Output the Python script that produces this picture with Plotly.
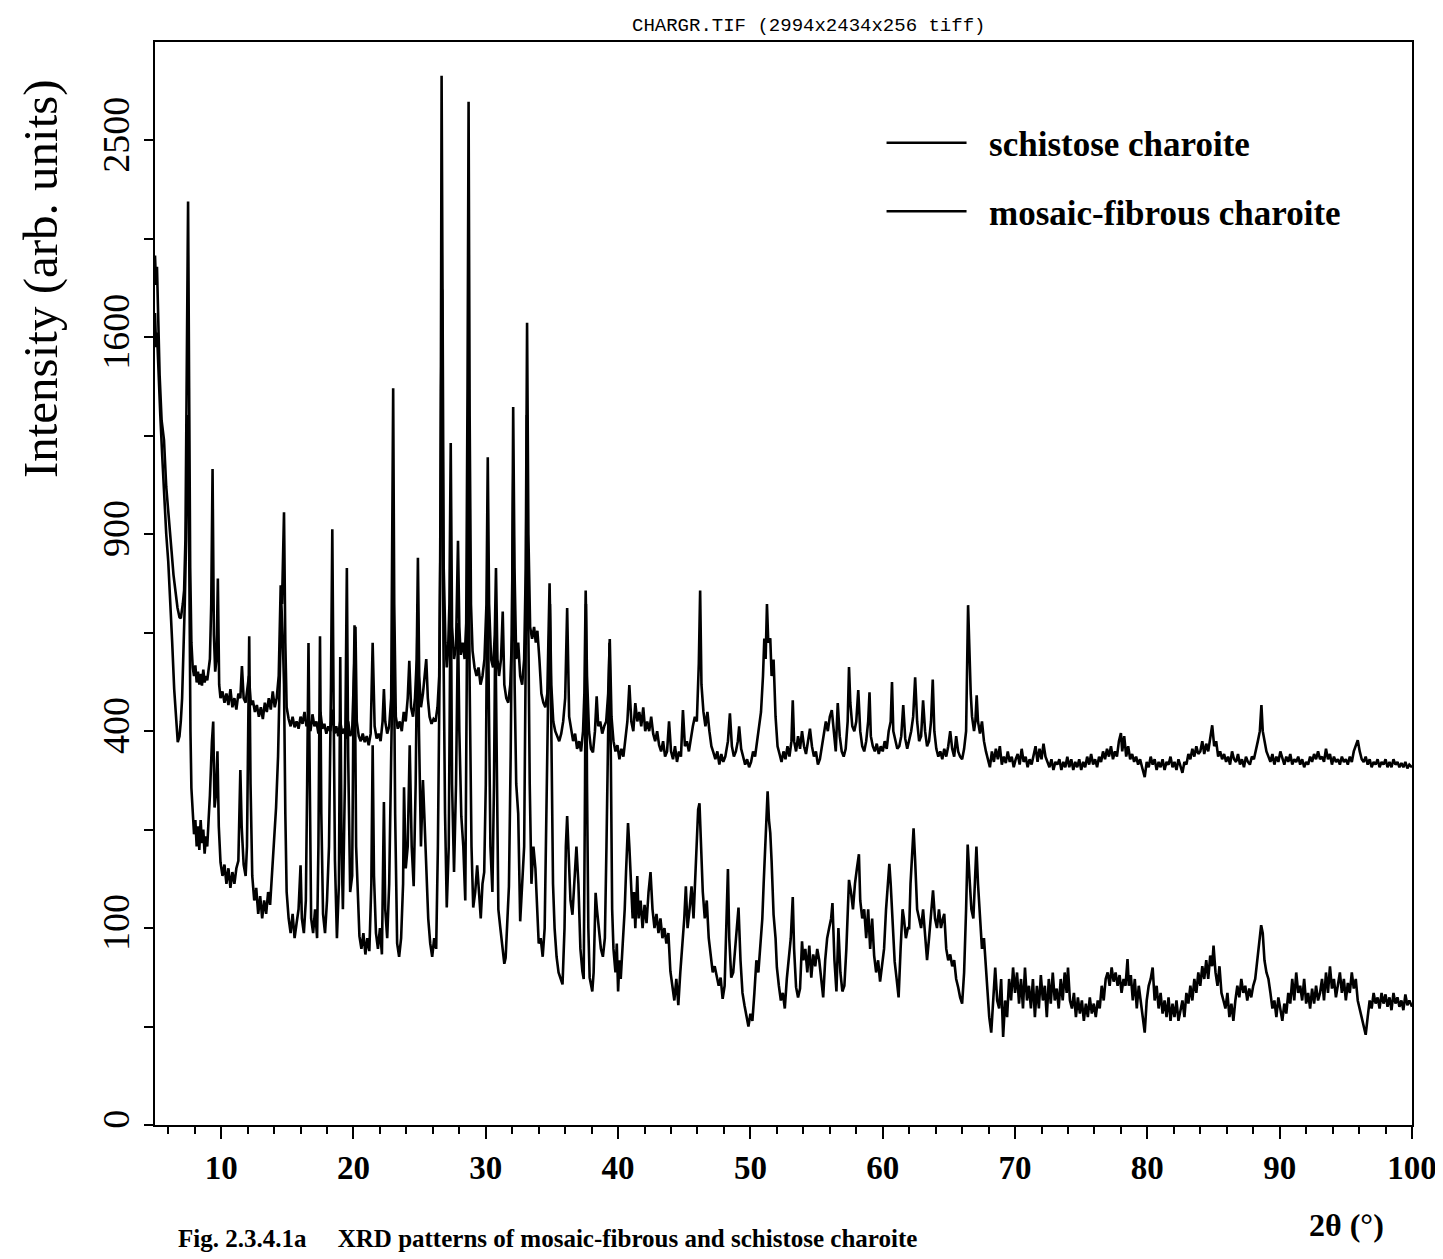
import numpy as np
import plotly.graph_objects as go

# ---------------- data ----------------
# (2theta in degrees, intensity in arb. units)
schistose = [
(5.0,1950),(5.08,1820),(5.15,1900),(5.25,1580),(5.35,1450),(5.5,1280),(5.68,1210),(5.85,1050),
(6.06,925),(6.25,850),(6.4,780),(6.55,737),(6.7,690),(6.85,665),(6.95,662),(7.1,700),(7.2,737),
(7.3,885),(7.4,1500),(7.5,2200),(7.58,1400),(7.66,800),(7.75,600),(7.85,540),(7.95,520),(8.05,545),
(8.15,505),(8.25,530),(8.35,500),(8.45,525),(8.55,498),(8.65,535),(8.75,505),(8.85,520),(8.95,510),
(9.05,540),(9.15,560),(9.25,700),(9.35,1110),(9.45,620),(9.55,530),(9.65,560),(9.75,770),(9.85,500),
(9.95,470),(10.1,485),(10.25,460),(10.4,480),(10.55,455),(10.7,490),(10.85,450),(11.0,470),(11.15,445),
(11.3,480),(11.45,470),(11.57,543),(11.7,470),(11.85,460),(11.95,480),(12.1,520),(12.25,455),(12.4,465),
(12.55,440),(12.7,455),(12.85,430),(13.0,450),(13.15,425),(13.3,460),(13.45,440),(13.6,470),(13.75,445),
(13.9,485),(14.05,450),(14.2,470),(14.35,520),(14.5,751),(14.6,700),(14.75,968),(14.85,600),(14.95,450),
(15.1,425),(15.25,410),(15.4,430),(15.55,408),(15.7,420),(15.85,405),(16.0,430),(16.15,415),(16.3,440),
(16.45,410),(16.6,425),(16.75,400),(16.9,435),(17.05,410),(17.2,420),(17.35,395),(17.5,440),(17.65,405),
(17.8,415),(17.95,395),(18.1,410),(18.25,400),(18.4,445),(18.55,395),(18.7,410),(18.85,390),(19.0,420),
(19.15,395),(19.3,405),(19.45,385),(19.6,420),(19.75,390),(19.9,400),(20.05,520),(20.15,640),(20.25,420),
(20.4,390),(20.55,380),(20.7,395),(20.85,378),(21.0,390),(21.15,372),(21.3,395),(21.45,600),(21.6,410),
(21.75,385),(21.9,395),(22.05,380),(22.2,420),(22.3,490),(22.4,420),(22.55,395),(22.7,410),(22.85,470),
(22.93,800),(23.0,1400),(23.08,700),(23.2,430),(23.35,405),(23.5,420),(23.65,400),(23.8,440),(23.95,420),
(24.1,470),(24.22,556),(24.35,450),(24.5,430),(24.65,470),(24.78,560),(24.87,830),(24.97,520),(25.1,450),
(25.25,480),(25.4,520),(25.5,560),(25.62,470),(25.75,430),(25.9,415),(26.05,425),(26.2,420),(26.35,450),
(26.48,520),(26.58,900),(26.66,2840),(26.74,1800),(26.82,800),(26.95,600),(27.05,540),(27.15,580),
(27.25,700),(27.35,1200),(27.45,640),(27.6,560),(27.75,590),(27.9,880),(28.0,640),(28.1,570),(28.25,600),
(28.4,560),(28.52,650),(28.62,1400),(28.7,2700),(28.78,1300),(28.88,700),(29.0,580),(29.15,540),
(29.3,520),(29.45,540),(29.6,500),(29.75,520),(29.9,560),(30.05,700),(30.15,1150),(30.25,700),(30.4,560),
(30.55,540),(30.68,620),(30.77,800),(30.88,560),(31.0,520),(31.15,560),(31.28,680),(31.4,500),(31.55,470),
(31.7,460),(31.85,500),(31.98,620),(32.07,1330),(32.17,800),(32.3,560),(32.45,600),(32.6,520),(32.75,500),
(32.9,560),(33.02,800),(33.12,1660),(33.22,900),(33.35,640),(33.5,610),(33.65,640),(33.78,600),(33.9,630),
(34.05,560),(34.2,480),(34.35,460),(34.5,450),(34.65,480),(34.82,757),(34.95,500),(35.1,420),(35.25,400),
(35.4,390),(35.55,380),(35.7,395),(35.85,420),(36.0,470),(36.15,689),(36.3,430),(36.45,400),(36.6,380),
(36.75,395),(36.9,365),(37.05,380),(37.2,360),(37.35,400),(37.45,480),(37.55,737),(37.65,520),(37.8,400),
(37.95,365),(38.1,358),(38.25,400),(38.38,474),(38.5,410),(38.65,420),(38.8,395),(38.95,410),(39.1,420),
(39.25,480),(39.37,609),(39.5,430),(39.65,380),(39.8,360),(39.95,372),(40.1,345),(40.25,365),(40.4,350),
(40.55,380),(40.7,420),(40.85,499),(41.0,420),(41.15,400),(41.3,459),(41.45,420),(41.6,440),(41.75,410),
(41.9,450),(42.05,400),(42.2,420),(42.35,400),(42.5,430),(42.65,395),(42.8,380),(42.95,400),(43.1,372),
(43.25,360),(43.4,380),(43.55,350),(43.7,360),(43.85,420),(44.0,360),(44.15,345),(44.3,370),(44.45,340),
(44.6,360),(44.75,350),(44.9,444),(45.05,370),(45.2,380),(45.35,360),(45.5,390),(45.65,410),(45.8,430),
(45.95,420),(46.1,550),(46.2,737),(46.3,500),(46.45,440),(46.6,410),(46.75,440),(46.9,400),(47.05,370),
(47.2,358),(47.35,345),(47.5,360),(47.65,335),(47.8,355),(47.95,340),(48.1,350),(48.3,380),(48.45,437),
(48.6,370),(48.75,350),(48.9,360),(49.05,380),(49.15,410),(49.3,365),(49.45,350),(49.6,335),(49.75,345),
(49.9,330),(50.05,340),(50.2,360),(50.35,350),(50.5,380),(50.65,400),(50.8,440),(50.95,520),(51.05,610),
(51.15,560),(51.25,700),(51.35,600),(51.5,611),(51.6,520),(51.75,559),(51.9,430),(52.05,370),(52.2,355),
(52.35,340),(52.5,360),(52.65,345),(52.8,370),(52.95,350),(53.1,380),(53.2,465),(53.3,380),(53.45,360),
(53.6,390),(53.75,365),(53.9,400),(54.05,370),(54.2,355),(54.35,380),(54.5,405),(54.65,370),(54.8,350),
(54.95,360),(55.1,335),(55.25,345),(55.4,370),(55.55,390),(55.7,420),(55.85,400),(56.0,430),(56.15,444),
(56.3,400),(56.45,360),(56.6,459),(56.75,390),(56.9,360),(57.05,350),(57.2,365),(57.35,420),(57.45,541),
(57.55,460),(57.7,410),(57.85,400),(58.0,420),(58.15,488),(58.3,400),(58.45,370),(58.6,360),(58.75,380),
(58.9,420),(59.0,483),(59.1,390),(59.25,370),(59.4,360),(59.55,375),(59.7,355),(59.85,370),(60.0,360),
(60.15,380),(60.3,365),(60.45,400),(60.6,420),(60.7,506),(60.8,400),(60.95,380),(61.1,365),(61.25,370),
(61.4,390),(61.55,455),(61.7,385),(61.85,365),(62.0,380),(62.15,400),(62.3,430),(62.45,517),(62.6,420),
(62.75,380),(62.9,390),(63.05,465),(63.2,400),(63.35,370),(63.5,380),(63.65,420),(63.78,512),(63.9,400),
(64.05,365),(64.2,350),(64.35,360),(64.5,345),(64.65,365),(64.8,350),(64.95,370),(65.1,400),(65.25,365),
(65.4,350),(65.55,390),(65.7,360),(65.85,350),(66.0,345),(66.15,365),(66.3,400),(66.45,697),(66.55,560),
(66.65,480),(66.75,430),(66.9,400),(67.0,420),(67.1,476),(67.2,420),(67.35,395),(67.5,420),(67.65,380),
(67.8,360),(67.95,345),(68.1,330),(68.25,360),(68.4,340),(68.55,365),(68.7,345),(68.85,370),(69.0,335),
(69.15,350),(69.3,338),(69.45,360),(69.6,340),(69.75,350),(69.9,330),(70.05,345),(70.2,355),(70.35,335),
(70.5,365),(70.65,340),(70.8,350),(70.95,330),(71.1,345),(71.25,335),(71.4,350),(71.55,370),(71.7,340),
(71.85,365),(72.0,345),(72.15,375),(72.3,350),(72.45,340),(72.6,330),(72.75,345),(72.9,325),(73.05,340),
(73.2,335),(73.35,345),(73.5,325),(73.65,340),(73.8,330),(73.95,350),(74.1,330),(74.25,345),(74.4,325),
(74.55,340),(74.7,330),(74.85,345),(75.0,325),(75.15,340),(75.3,330),(75.45,350),(75.6,335),(75.75,355),
(75.9,335),(76.05,345),(76.2,330),(76.35,350),(76.5,340),(76.65,360),(76.8,345),(76.95,365),(77.1,350),
(77.25,370),(77.4,345),(77.55,360),(77.7,350),(77.85,380),(78.0,396),(78.1,360),(78.25,390),(78.4,350),
(78.55,370),(78.7,345),(78.85,355),(79.0,340),(79.15,350),(79.3,335),(79.45,345),(79.6,330),(79.8,312),
(79.95,340),(80.1,330),(80.25,350),(80.4,335),(80.55,345),(80.7,325),(80.85,340),(81.0,330),(81.15,345),
(81.3,325),(81.45,340),(81.6,335),(81.75,350),(81.9,330),(82.05,340),(82.2,325),(82.35,345),(82.5,330),
(82.65,320),(82.8,340),(82.95,335),(83.1,355),(83.25,345),(83.4,365),(83.55,350),(83.7,370),(83.85,355),
(84.0,360),(84.15,380),(84.3,355),(84.45,375),(84.6,360),(84.75,390),(84.9,412),(85.05,370),(85.2,380),
(85.35,350),(85.5,360),(85.65,345),(85.8,355),(85.95,340),(86.1,350),(86.25,335),(86.4,360),(86.55,345),
(86.7,340),(86.85,355),(87.0,335),(87.15,345),(87.3,330),(87.45,350),(87.6,340),(87.75,335),(87.9,350),
(88.05,345),(88.2,360),(88.35,380),(88.5,400),(88.62,455),(88.72,400),(88.85,380),(89.0,360),(89.15,350),
(89.3,340),(89.45,355),(89.6,335),(89.75,350),(89.9,340),(90.05,360),(90.2,345),(90.35,335),(90.5,350),
(90.65,340),(90.8,355),(90.95,335),(91.1,345),(91.25,340),(91.4,350),(91.55,335),(91.7,345),(91.85,330),
(92.0,340),(92.15,335),(92.3,350),(92.45,340),(92.6,355),(92.75,345),(92.9,360),(93.05,345),(93.2,350),
(93.35,340),(93.5,365),(93.65,345),(93.8,355),(93.95,335),(94.1,350),(94.25,340),(94.4,345),(94.55,335),
(94.7,350),(94.85,340),(95.0,345),(95.15,335),(95.3,350),(95.45,340),(95.6,360),(95.75,370),(95.9,382),
(96.05,360),(96.2,345),(96.35,340),(96.5,350),(96.65,335),(96.8,345),(96.95,330),(97.1,340),(97.25,335),
(97.4,345),(97.55,330),(97.7,340),(97.85,335),(98.0,345),(98.15,330),(98.3,340),(98.45,330),(98.6,345),
(98.75,335),(98.9,340),(99.05,330),(99.2,338),(99.35,330),(99.5,340),(99.65,328),(99.8,335),(100.0,330),
]

mosaic = [
(5.0,1700),(5.08,1560),(5.15,1620),(5.25,1450),(5.4,1300),(5.55,1150),(5.7,1000),(5.85,900),(6.0,820),
(6.15,720),(6.3,600),(6.45,490),(6.6,410),(6.72,378),(6.85,390),(6.95,420),(7.05,470),(7.15,560),
(7.25,700),(7.35,885),(7.45,1300),(7.52,1250),(7.6,700),(7.68,400),(7.75,293),(7.85,250),(7.95,218),
(8.05,240),(8.15,200),(8.25,230),(8.35,195),(8.45,240),(8.55,205),(8.65,225),(8.75,190),(8.85,215),
(8.95,200),(9.05,240),(9.15,280),(9.3,378),(9.4,420),(9.5,260),(9.6,280),(9.72,360),(9.82,230),
(9.95,178),(10.1,160),(10.25,175),(10.4,150),(10.55,170),(10.7,145),(10.85,165),(11.0,150),(11.15,170),
(11.3,180),(11.45,325),(11.55,230),(11.7,175),(11.85,160),(11.95,200),(12.05,450),(12.12,616),(12.22,300),
(12.35,160),(12.5,130),(12.65,145),(12.8,115),(12.95,135),(13.1,110),(13.25,130),(13.4,115),(13.55,140),
(13.7,125),(13.85,160),(14.0,200),(14.15,260),(14.3,350),(14.45,600),(14.55,700),(14.65,620),(14.75,500),
(14.85,250),(14.95,140),(15.1,110),(15.25,95),(15.4,115),(15.55,90),(15.7,105),(15.85,120),(16.0,174),
(16.1,110),(16.25,95),(16.4,130),(16.5,300),(16.6,599),(16.7,300),(16.8,110),(16.95,95),(17.1,120),
(17.25,90),(17.35,200),(17.47,616),(17.57,250),(17.7,115),(17.85,95),(18.0,130),(18.15,200),(18.3,500),
(18.4,915),(18.5,450),(18.6,180),(18.75,90),(18.9,150),(19.0,565),(19.1,200),(19.2,120),(19.35,300),
(19.5,800),(19.6,350),(19.75,140),(19.9,160),(20.0,450),(20.08,644),(20.2,200),(20.3,147),(20.45,92),
(20.6,80),(20.75,95),(20.9,75),(21.05,90),(21.2,78),(21.35,150),(21.45,372),(21.55,160),(21.7,95),
(21.85,80),(22.0,100),(22.15,75),(22.3,269),(22.4,120),(22.55,90),(22.7,150),(22.85,350),(22.95,600),
(23.03,700),(23.15,250),(23.3,85),(23.45,73),(23.6,90),(23.75,150),(23.82,294),(23.95,170),(24.1,200),
(24.25,372),(24.4,200),(24.55,147),(24.7,300),(24.85,700),(24.95,400),(25.1,200),(25.25,307),(25.35,250),
(25.5,160),(25.65,110),(25.8,85),(25.95,73),(26.1,90),(26.25,80),(26.38,200),(26.5,500),(26.62,1400),
(26.7,1800),(26.8,600),(26.92,250),(27.05,122),(27.2,200),(27.35,800),(27.45,300),(27.6,165),(27.75,300),
(27.9,650),(28.0,400),(28.15,246),(28.3,200),(28.45,130),(28.58,500),(28.68,1200),(28.78,500),(28.92,200),
(29.05,122),(29.2,140),(29.35,174),(29.5,130),(29.62,110),(29.75,150),(29.88,165),(30.0,300),(30.12,800),
(30.22,500),(30.35,200),(30.5,140),(30.62,300),(30.72,650),(30.82,300),(30.95,120),(31.1,100),(31.25,79),
(31.4,67),(31.5,72),(31.65,120),(31.75,147),(31.88,350),(32.0,800),(32.08,1100),(32.18,500),(32.3,300),
(32.45,250),(32.6,107),(32.75,150),(32.9,200),(33.0,500),(33.1,1300),(33.2,700),(33.32,300),(33.45,150),
(33.6,200),(33.75,170),(33.9,120),(34.0,85),(34.15,90),(34.3,73),(34.45,100),(34.6,300),(34.75,550),
(34.85,700),(34.95,350),(35.08,150),(35.2,100),(35.35,73),(35.5,60),(35.65,56),(35.8,51),(35.95,100),
(36.05,200),(36.15,246),(36.25,200),(36.4,130),(36.55,114),(36.7,150),(36.85,200),(37.0,150),(37.15,80),
(37.3,61),(37.4,55),(37.5,300),(37.57,700),(37.65,300),(37.75,100),(37.85,56),(37.95,50),(38.05,46),
(38.15,60),(38.3,139),(38.4,120),(38.55,100),(38.7,80),(38.85,73),(39.0,90),(39.12,200),(39.25,450),
(39.35,600),(39.45,350),(39.55,120),(39.65,80),(39.8,60),(39.9,85),(40.0,46),(40.1,70),(40.2,55),
(40.35,85),(40.5,120),(40.6,165),(40.75,235),(40.85,200),(40.95,150),(41.1,110),(41.2,140),(41.3,100),
(41.45,160),(41.55,110),(41.7,130),(41.85,100),(42.0,125),(42.15,105),(42.3,140),(42.45,165),(42.6,120),
(42.75,100),(42.9,115),(43.05,95),(43.2,110),(43.35,90),(43.5,100),(43.65,85),(43.8,95),(43.95,61),
(44.1,50),(44.25,40),(44.4,55),(44.55,37),(44.7,60),(44.85,80),(45.0,110),(45.12,147),(45.25,100),
(45.4,120),(45.55,147),(45.7,110),(45.85,160),(45.95,220),(46.05,257),(46.15,267),(46.25,200),(46.4,140),
(46.55,110),(46.7,130),(46.85,90),(47.0,73),(47.15,60),(47.3,65),(47.45,56),(47.6,50),(47.75,56),
(47.9,41),(48.05,50),(48.2,100),(48.3,169),(48.4,90),(48.55,56),(48.7,60),(48.85,80),(49.0,100),
(49.1,122),(49.25,70),(49.4,45),(49.55,37),(49.7,30),(49.85,25),(50.0,32),(50.15,28),(50.3,45),
(50.45,70),(50.6,60),(50.75,80),(50.9,110),(51.0,150),(51.1,200),(51.2,240),(51.3,287),(51.4,240),
(51.5,220),(51.6,180),(51.75,114),(51.9,90),(52.0,64),(52.15,50),(52.3,40),(52.45,45),(52.6,35),
(52.75,55),(52.9,70),(53.05,90),(53.2,134),(53.3,80),(53.45,49),(53.6,42),(53.75,48),(53.9,87),
(54.0,70),(54.15,80),(54.3,60),(54.45,83),(54.6,56),(54.75,75),(54.9,65),(55.05,80),(55.2,70),
(55.35,55),(55.5,42),(55.65,70),(55.8,90),(55.95,100),(56.1,110),(56.2,127),(56.35,70),(56.5,46),
(56.65,100),(56.8,60),(56.95,46),(57.1,50),(57.25,80),(57.45,155),(57.6,140),(57.75,120),(57.9,150),
(58.05,170),(58.2,189),(58.3,130),(58.45,110),(58.6,120),(58.75,90),(58.9,120),(59.05,80),(59.2,110),
(59.35,74),(59.5,60),(59.65,70),(59.8,53),(59.95,65),(60.1,80),(60.25,120),(60.4,150),(60.5,176),
(60.6,150),(60.75,100),(60.9,69),(61.05,55),(61.2,42),(61.35,80),(61.5,120),(61.6,110),(61.75,90),
(61.9,100),(62.0,100),(62.1,150),(62.2,190),(62.33,227),(62.45,180),(62.6,120),(62.75,110),(62.9,100),
(63.05,120),(63.2,90),(63.35,70),(63.5,90),(63.65,120),(63.8,142),(63.95,110),(64.1,100),(64.25,120),
(64.4,100),(64.55,110),(64.65,115),(64.8,80),(64.95,70),(65.1,75),(65.25,65),(65.4,70),(65.55,55),
(65.7,49),(65.85,42),(66.0,38),(66.15,60),(66.3,120),(66.42,203),(66.55,160),(66.7,120),(66.85,110),
(66.95,140),(67.08,200),(67.2,150),(67.35,110),(67.5,80),(67.65,90),(67.8,64),(67.95,40),(68.05,30),
(68.2,22),(68.35,45),(68.5,64),(68.65,40),(68.8,35),(68.95,55),(69.1,20),(69.25,40),(69.4,30),
(69.55,55),(69.7,40),(69.85,64),(70.0,45),(70.15,60),(70.3,38),(70.45,55),(70.6,35),(70.75,64),
(70.9,40),(71.05,50),(71.2,35),(71.35,55),(71.5,30),(71.65,50),(71.8,35),(71.95,58),(72.1,40),
(72.25,50),(72.4,30),(72.55,55),(72.7,38),(72.85,60),(73.0,40),(73.15,48),(73.3,35),(73.45,55),
(73.6,40),(73.75,60),(73.9,45),(74.0,64),(74.15,40),(74.3,35),(74.45,45),(74.6,30),(74.75,42),
(74.9,32),(75.05,40),(75.2,28),(75.35,38),(75.5,30),(75.65,42),(75.8,32),(75.95,38),(76.1,30),
(76.25,40),(76.4,35),(76.55,50),(76.7,40),(76.85,55),(77.0,60),(77.15,50),(77.3,64),(77.45,53),
(77.6,60),(77.75,50),(77.9,58),(78.05,45),(78.2,55),(78.35,50),(78.5,71),(78.6,50),(78.75,58),
(78.9,40),(79.05,55),(79.2,35),(79.35,50),(79.5,38),(79.65,30),(79.8,22),(79.95,40),(80.1,50),
(80.25,55),(80.4,64),(80.55,40),(80.7,50),(80.85,35),(81.0,45),(81.15,32),(81.3,40),(81.45,30),
(81.6,42),(81.75,28),(81.9,38),(82.05,30),(82.2,40),(82.35,28),(82.5,35),(82.65,40),(82.8,30),
(82.95,45),(83.1,38),(83.25,50),(83.4,40),(83.55,55),(83.7,45),(83.85,60),(84.0,50),(84.15,65),
(84.3,55),(84.45,70),(84.6,55),(84.75,74),(84.9,65),(85.0,83),(85.15,60),(85.3,50),(85.45,65),
(85.6,45),(85.75,40),(85.9,35),(86.05,45),(86.2,30),(86.35,38),(86.5,28),(86.65,40),(86.8,50),
(86.95,42),(87.1,55),(87.25,45),(87.4,50),(87.55,40),(87.7,48),(87.85,42),(88.0,50),(88.15,55),
(88.3,70),(88.45,90),(88.6,103),(88.72,95),(88.85,70),(89.0,60),(89.15,55),(89.3,45),(89.45,35),
(89.6,40),(89.75,30),(89.9,42),(90.05,35),(90.2,28),(90.35,38),(90.5,32),(90.65,45),(90.8,38),
(90.95,55),(91.1,40),(91.25,60),(91.4,45),(91.55,50),(91.7,40),(91.85,55),(92.0,38),(92.15,45),
(92.3,35),(92.45,48),(92.6,38),(92.75,50),(92.9,40),(93.05,45),(93.2,55),(93.35,40),(93.5,60),
(93.65,45),(93.8,65),(93.95,48),(94.1,55),(94.25,42),(94.4,50),(94.55,60),(94.7,45),(94.85,55),
(95.0,40),(95.15,52),(95.3,45),(95.45,60),(95.6,48),(95.75,55),(95.9,40),(96.05,35),(96.2,30),
(96.35,25),(96.5,21),(96.65,30),(96.8,40),(96.95,35),(97.1,45),(97.25,38),(97.4,42),(97.55,35),
(97.7,45),(97.85,38),(98.0,44),(98.15,36),(98.3,42),(98.45,34),(98.6,45),(98.75,38),(98.9,42),
(99.05,36),(99.2,40),(99.35,34),(99.5,44),(99.65,37),(99.8,40),(100.0,36),
]

schistose_2theta = [p[0] for p in schistose]
schistose_intensity = [p[1] for p in schistose]
mosaic_2theta = [p[0] for p in mosaic]
mosaic_intensity = [p[1] for p in mosaic]

y_tick_values = [0, 100, 400, 900, 1600, 2500]
y_minor_values = [25, 225, 625, 1225, 2025]
x_tick_values = [10, 20, 30, 40, 50, 60, 70, 80, 90, 100]
x_minor_values = [6, 8, 12, 14, 16, 18, 22, 24, 26, 28, 32, 34, 36, 38, 42, 44, 46, 48, 52, 54, 56, 58,
                  62, 64, 66, 68, 72, 74, 76, 78, 82, 84, 86, 88, 92, 94, 96, 98]

SERIF = "Liberation Serif"
NB = "\u00a0\u00a0"

fig = go.Figure()
fig.add_trace(go.Scatter(
    x=schistose_2theta, y=np.sqrt(schistose_intensity), mode="lines",
    name=NB + "schistose charoite", legendgroup="a",
    line=dict(color="black", width=2.6),
))
fig.add_trace(go.Scatter(
    x=mosaic_2theta, y=np.sqrt(mosaic_intensity), mode="lines",
    name=NB + "mosaic-fibrous charoite", legendgroup="b",
    line=dict(color="black", width=2.6),
))

# the page body has an 8px margin, so the figure is 8px smaller than the window
fig.update_layout(
    width=1435, height=1251,
    margin=dict(l=147, r=31, t=34, b=134, autoexpand=False),
    paper_bgcolor="white", plot_bgcolor="white",
    showlegend=True,
    legend=dict(
        x=0.578, y=0.934, xanchor="left", yanchor="top",
        font=dict(family=SERIF, size=35, color="black", weight="bold"),
        bgcolor="rgba(0,0,0,0)", borderwidth=0,
        itemwidth=80, tracegroupgap=20,
    ),
    annotations=[
        dict(text="CHARGR.TIF (2994x2434x256 tiff)", xref="paper", yref="paper",
             x=0.378, y=1.0, xanchor="left", yanchor="bottom", yshift=3, showarrow=False,
             font=dict(family="Liberation Mono", size=19, color="black")),
        dict(text="Intensity (arb. units)", xref="paper", yref="paper",
             x=-0.0915, y=0.782, xanchor="center", yanchor="middle", textangle=-90,
             showarrow=False, font=dict(family=SERIF, size=49, color="black")),
        dict(text="<b>2θ (°)</b>", xref="paper", yref="paper",
             x=0.948, y=-0.0923, xanchor="center", yanchor="middle", showarrow=False,
             font=dict(family=SERIF, size=32, color="black")),
        dict(text="<b>Fig. 2.3.4.1a     XRD patterns of mosaic-fibrous and schistose charoite</b>",
             xref="paper", yref="paper", x=0.017, y=-0.1195, xanchor="left", yanchor="bottom",
             showarrow=False, font=dict(family=SERIF, size=25, color="black")),
    ],
)

fig.update_xaxes(
    range=[5, 100], showgrid=False, zeroline=False, automargin=False,
    showline=True, linecolor="black", linewidth=2, mirror=True,
    tickmode="array", tickvals=x_tick_values, ticktext=[str(v) for v in x_tick_values],
    ticks="outside", ticklen=12, tickwidth=2, tickcolor="black",
    tickfont=dict(family=SERIF, size=33, color="black", weight="bold"),
    minor=dict(tickmode="array", tickvals=x_minor_values, ticks="outside",
               ticklen=7, tickwidth=1.5, tickcolor="black"),
)
fig.update_yaxes(
    range=[0, 55], showgrid=False, zeroline=False, automargin=False,
    showline=True, linecolor="black", linewidth=2, mirror=True,
    tickmode="array", tickvals=list(np.sqrt(y_tick_values)),
    ticktext=[str(v) for v in y_tick_values], tickangle=-90,
    ticks="outside", ticklen=9, tickwidth=2, tickcolor="black",
    tickfont=dict(family=SERIF, size=38, color="black"),
    minor=dict(tickmode="array", tickvals=list(np.sqrt(y_minor_values)), ticks="outside",
               ticklen=9, tickwidth=1.5, tickcolor="black"),
)

fig.write_html("out.html")
